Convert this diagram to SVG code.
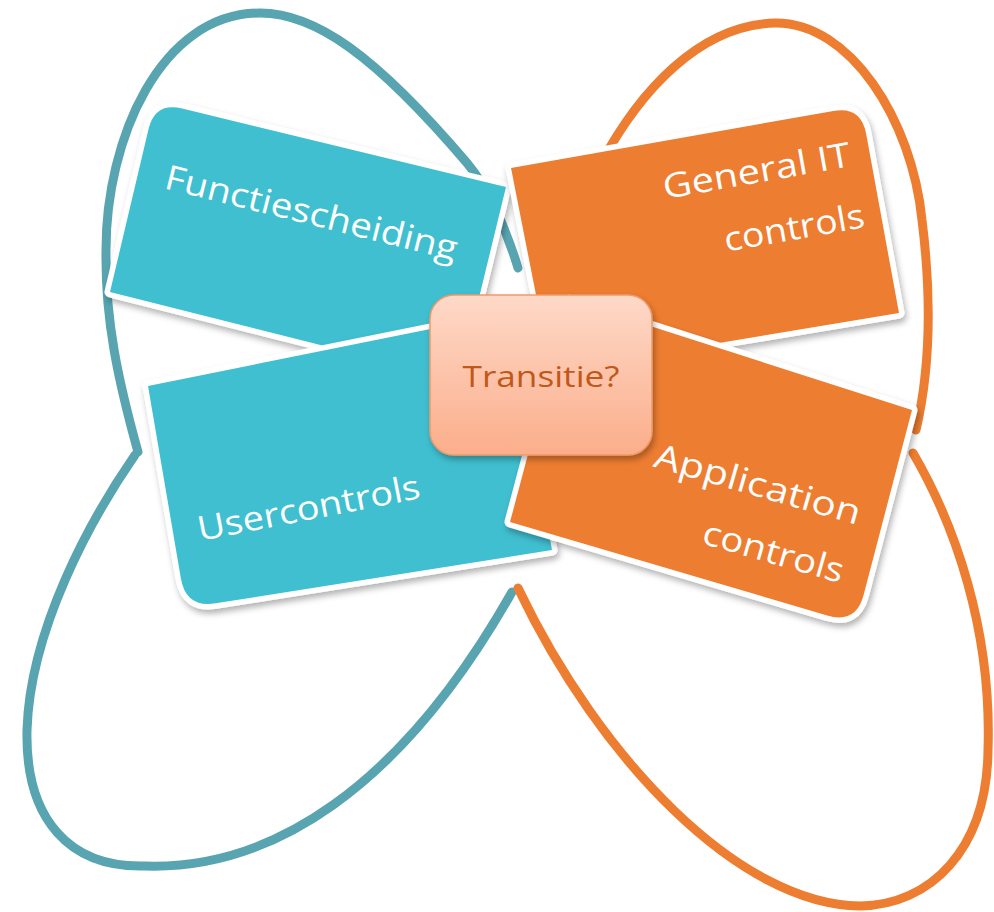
<svg xmlns="http://www.w3.org/2000/svg" xmlns:xlink="http://www.w3.org/1999/xlink" width="994" height="912" viewBox="0 0 994 912">
  <style>
    .loop { fill: none; stroke-width: 9; stroke-linecap: round; stroke-linejoin: round; }
    .teal-loop { stroke: #58A5B1; }
    .orange-loop { stroke: #ED7D31; }
    .frame { fill: #ffffff; stroke: #ffffff; stroke-width: 11; stroke-linejoin: round; filter: url(#shadow); }
    .teal { fill: #40BFD0; }
    .orange { fill: #ED7D31; }
    .label { font-family: "Open Sans", "Noto Sans", "DejaVu Sans", sans-serif; font-size: 34px; fill: #ffffff; }
    .center-label { font-family: "Open Sans", "Noto Sans", "DejaVu Sans", sans-serif; font-size: 30px; fill: #C0581A; }
  </style>
  <defs>
    <filter id="shadow" x="-20%" y="-20%" width="140%" height="140%">
      <feDropShadow dx="2" dy="4" stdDeviation="3" flood-color="#000000" flood-opacity="0.3"/>
    </filter>
    <linearGradient id="centerGrad" x1="0" y1="0" x2="0" y2="1">
      <stop offset="0" stop-color="#FED9C8"/>
      <stop offset="1" stop-color="#FBAE8B"/>
    </linearGradient>
    <path id="p1" d="M182.2,108.6 L506,187 L459,380 L110,292 L148.5,129.3 Q155,102 182.2,108.6 Z"/>
    <path id="p2" d="M148,386 L510,313 L552,550 L215.6,603.3 Q186,608 180.9,578.4 Z"/>
    <path id="p3" d="M511,168 L833.4,110.9 Q861,106 866.1,133.5 L899,313 L551,371 Z"/>
    <path id="p4" d="M569,300 L912,410 L863.6,595 Q856,624 827.2,615.5 L510,522 Z"/>
  </defs>
  <rect width="994" height="912" fill="#ffffff"/>

  <g id="connectors">
    <path class="loop teal-loop" d="M138,452 C118,380 105,320 106,250 C106,140 160,13 260,13 C315,13 375,55 467,163 C490,190 508,235 518,268"/>
    <path class="loop teal-loop" d="M135,455 C90,520 30,630 27,730 C25,820 70,868 145,866 C270,870 400,790 512,592"/>
    <path class="loop orange-loop" d="M600,165 C640,90 700,25 775,23 C850,22 912,120 922,220 C932,300 930,370 916,430"/>
    <path class="loop orange-loop" d="M913,453 C955,525 992,630 988,750 C987,850 930,905 860,906 C740,905 600,760 518,588"/>
  </g>

  <g id="node-functiescheiding">
    <use xlink:href="#p1" class="frame"/>
    <use xlink:href="#p1" class="teal"/>
    <text class="label" transform="translate(163,188) rotate(14)" textLength="300" lengthAdjust="spacingAndGlyphs">Functiescheiding</text>
  </g>

  <g id="node-usercontrols">
    <use xlink:href="#p2" class="frame"/>
    <use xlink:href="#p2" class="teal"/>
    <text class="label" transform="translate(200,541) rotate(-11)" textLength="226" lengthAdjust="spacingAndGlyphs">Usercontrols</text>
  </g>

  <g id="node-general-it-controls">
    <use xlink:href="#p3" class="frame"/>
    <use xlink:href="#p3" class="orange"/>
    <text class="label" text-anchor="end" transform="translate(852,166) rotate(-10)" textLength="190" lengthAdjust="spacingAndGlyphs">General IT</text>
    <text class="label" text-anchor="end" transform="translate(866,227) rotate(-10)" textLength="142" lengthAdjust="spacingAndGlyphs">controls</text>
  </g>

  <g id="node-application-controls">
    <use xlink:href="#p4" class="frame"/>
    <use xlink:href="#p4" class="orange"/>
    <text class="label" text-anchor="end" transform="translate(857,525) rotate(16)" textLength="213" lengthAdjust="spacingAndGlyphs">Application</text>
    <text class="label" text-anchor="end" transform="translate(840,583) rotate(16)" textLength="145" lengthAdjust="spacingAndGlyphs">controls</text>
  </g>

  <g id="node-transitie">
    <rect x="430" y="295" width="222" height="160" rx="24" ry="24" fill="url(#centerGrad)" stroke="#F09A68" stroke-width="1.5" filter="url(#shadow)"/>
    <text class="center-label" x="541" y="387" text-anchor="middle" textLength="157" lengthAdjust="spacingAndGlyphs">Transitie?</text>
  </g>
</svg>
